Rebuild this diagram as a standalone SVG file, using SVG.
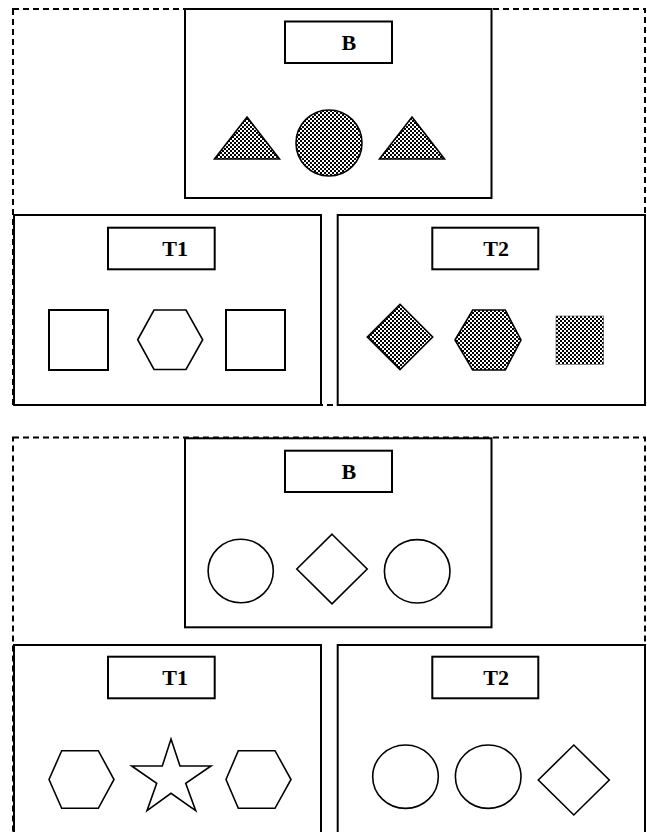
<svg xmlns="http://www.w3.org/2000/svg" width="647" height="832" viewBox="0 0 647 832">
<style>
.dash{fill:none;stroke:#000;stroke-width:2;stroke-dasharray:6,4}
.box{fill:#fff;stroke:#000;stroke-width:2}
.lbl{fill:#fff;stroke:#000;stroke-width:2}
.sh{fill:none;stroke:#000;stroke-width:1.6}
.chk{fill:url(#checker);stroke:#000;stroke-width:1.6}
.t{font-family:"Liberation Serif","Times New Roman",serif;font-weight:bold;font-size:22px;fill:#000}
</style>
<defs>
<pattern id="checker" patternUnits="userSpaceOnUse" width="4" height="4">
<rect x="0" y="0" width="4" height="4" fill="#fff"/>
<rect x="0" y="0" width="2" height="2" fill="#000"/>
<rect x="2" y="2" width="2" height="2" fill="#000"/>
</pattern>
</defs>
<rect width="647" height="832" fill="#fff"/>

<g id="panel1">
<rect class="dash" x="13" y="9" width="632" height="396"/>
<g id="p1-B">
<rect class="box" x="185" y="9" width="306.5" height="189"/>
<rect class="lbl" x="285" y="21.5" width="107" height="41.5"/>
<text class="t" x="341.5" y="50">B</text>
<polygon class="chk" points="247,117 279.5,159 214.5,159"/>
<circle class="chk" cx="329" cy="143" r="33"/>
<polygon class="chk" points="412,117 444.5,159 379.5,159"/>
</g>
<g id="p1-T1">
<rect class="box" x="14" y="215" width="307" height="190"/>
<rect class="lbl" x="108" y="227.7" width="106.7" height="41.6"/>
<text class="t" x="162.3" y="256">T1</text>
<rect class="sh" x="49" y="310" width="59" height="60" style="stroke-width:2"/>
<polygon class="sh" points="137.7,339.75 154,310 186,310 202.7,339.75 186,369.5 154,369.5"/>
<rect class="sh" x="226" y="310" width="59" height="60" style="stroke-width:2"/>
</g>
<g id="p1-T2">
<rect class="box" x="337.7" y="215" width="307.3" height="190"/>
<rect class="lbl" x="432.3" y="227.7" width="106" height="41.6"/>
<text class="t" x="483.3" y="256">T2</text>
<polygon class="chk" points="400,304.3 432.7,337 400,369.5 367.3,337"/>
<polygon class="chk" points="455,340 472.7,310 505.3,310 521,340 505.3,370 472.7,370"/>
<rect x="556" y="316" width="47.7" height="48.3" fill="url(#checker)" stroke="#555" stroke-width="0.6"/>
</g>
</g>

<g id="panel2">
<rect class="dash" x="13" y="437.5" width="632" height="420"/>
<g id="p2-B">
<rect class="box" x="185" y="438.3" width="306.5" height="189"/>
<rect class="lbl" x="285" y="450.7" width="107" height="41.3"/>
<text class="t" x="341.5" y="479">B</text>
<ellipse class="sh" cx="240.7" cy="571" rx="32.6" ry="31.7"/>
<polygon class="sh" points="332,534.2 367.2,569 332,603.8 296.8,569"/>
<ellipse class="sh" cx="417.2" cy="571.3" rx="32.8" ry="31.7"/>
</g>
<g id="p2-T1">
<rect class="box" x="14" y="645" width="307" height="210"/>
<rect class="lbl" x="108" y="656.7" width="106.7" height="41.6"/>
<text class="t" x="162.3" y="685">T1</text>
<polygon class="sh" points="49,779.5 61.7,750.7 98.3,750.7 114,779.5 98.3,808.3 61.7,808.3"/>
<polygon class="sh" points="171,739 180,766 211,766 185.7,783.3 195.7,810.7 171,793.3 147,810.7 156.7,783.3 131.7,766 162.3,766"/>
<polygon class="sh" points="226,779.5 238.3,750.7 275,750.7 291,779.5 275,808.3 238.3,808.3"/>
</g>
<g id="p2-T2">
<rect class="box" x="337.7" y="645" width="307.3" height="210"/>
<rect class="lbl" x="432.3" y="656.7" width="106" height="41.6"/>
<text class="t" x="483.3" y="685">T2</text>
<ellipse class="sh" cx="405.5" cy="776.7" rx="32.8" ry="31.7"/>
<ellipse class="sh" cx="488.2" cy="776.7" rx="32.8" ry="31.7"/>
<polygon class="sh" points="573.8,745 609.3,780 573.8,815 538.3,780"/>
</g>
</g>
</svg>
